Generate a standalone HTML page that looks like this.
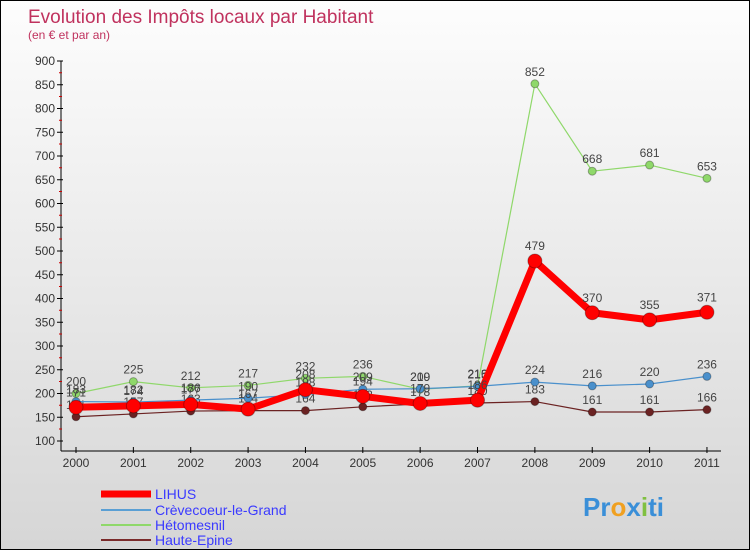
<!DOCTYPE html>
<html><head><meta charset="utf-8"><style>
body{margin:0;width:750px;height:550px;overflow:hidden;font-family:"Liberation Sans",sans-serif}
#wrap{position:relative;width:748px;height:548px;border:1px solid #000;background:linear-gradient(#fdfdfd,#d6d6d6)}
</style></head><body>
<div id="wrap">
<svg id="c" width="748" height="548" xmlns="http://www.w3.org/2000/svg">
<text x="27" y="22" font-size="19" fill="#c0325e">Evolution des Impôts locaux par Habitant</text>
<text x="27" y="38" font-size="12" fill="#c0325e">(en € et par an)</text>
<g id="axes"></g><g id="series"></g>
<g font-size="14" fill="#3a3aff">
<line x1="100" y1="493" x2="150" y2="493" stroke="#f00" stroke-width="7"/><text x="154" y="498">LIHUS</text>
<line x1="100" y1="509" x2="150" y2="509" stroke="#5a9fd4" stroke-width="2"/><text x="154" y="514">Crèvecoeur-le-Grand</text>
<line x1="100" y1="524" x2="150" y2="524" stroke="#8fd86a" stroke-width="2"/><text x="154" y="529">Hétomesnil</text>
<line x1="100" y1="539" x2="150" y2="539" stroke="#7a2a2a" stroke-width="2"/><text x="154" y="544">Haute-Epine</text>
</g>
<text x="582" y="515" font-size="26" font-weight="bold"><tspan fill="#3a8fd8">Pr</tspan><tspan fill="#f0a020">o</tspan><tspan fill="#3a8fd8">x</tspan><tspan fill="#80c040">i</tspan><tspan fill="#3a8fd8">ti</tspan></text>
</svg></div>
<script>
const years=[2000,2001,2002,2003,2004,2005,2006,2007,2008,2009,2010,2011];
const yTicks=[100,150,200,250,300,350,400,450,500,550,600,650,700,750,800,850,900];
const lihus=[171,174,177,167,208,194,179,186,479,370,355,371];
const crevecoeur=[183,182,186,190,198,209,210,215,224,216,220,236];
const hetomesnil=[200,225,212,217,232,236,209,216,852,668,681,653];
const hauteEpine=[151,157,163,164,164,172,178,180,183,161,161,166];
const X=i=>75+i*57.36, Y=v=>440-(v-100)*0.475;
const NS="http://www.w3.org/2000/svg";
function mk(p,t,a){const e=document.createElementNS(NS,t);for(const k in a)e.setAttribute(k,a[k]);p.appendChild(e);return e;}
const ax=document.getElementById('axes');
let l=mk(ax,'line',{x1:60,y1:60,x2:60,y2:450,stroke:'#000'});


l=mk(ax,'line',{x1:60,y1:450,x2:720,y2:450,stroke:'#000'});


yTicks.forEach(v=>{const y=Y(v);mk(ax,'line',{x1:56,y1:y,x2:62,y2:y,stroke:'#000'});
if(v<900)mk(ax,'line',{x1:58,y1:y-12,x2:61,y2:y-12,stroke:'#c00'});
const t=mk(ax,'text',{x:54,y:y+4,'text-anchor':'end','font-size':12,fill:'#333'});t.textContent=v;

});
years.forEach((yr,i)=>{mk(ax,'line',{x1:X(i),y1:446,x2:X(i),y2:452,stroke:'#000'});
const t=mk(ax,'text',{x:X(i),y:466,'text-anchor':'middle','font-size':12,fill:'#333'});t.textContent=yr;

});
const sg=document.getElementById('series');
function draw(name,vals,col,w,r){const g=mk(sg,'g',{});


mk(g,'polyline',{points:vals.map((v,i)=>X(i)+','+Y(v)).join(' '),fill:'none',stroke:col,'stroke-width':w,'stroke-linejoin':'round'});
vals.forEach((v,i)=>{const c=mk(g,'circle',{cx:X(i),cy:Y(v),r:r,fill:col,stroke:'rgba(0,0,0,0.3)'});


const t=mk(g,'text',{x:X(i),y:Y(v)-8-(r>5?3:0),'text-anchor':'middle','font-size':12,fill:'#444'});t.textContent=v;

});}
draw('haute-epine-series',hauteEpine,'#6b2222',1.2,4);
draw('hetomesnil-series',hetomesnil,'#8fd86a',1.2,4);
draw('crevecoeur-series',crevecoeur,'#4a90cc',1.2,4);
draw('lihus-series',lihus,'#f00',7,7);
</script></body></html>
